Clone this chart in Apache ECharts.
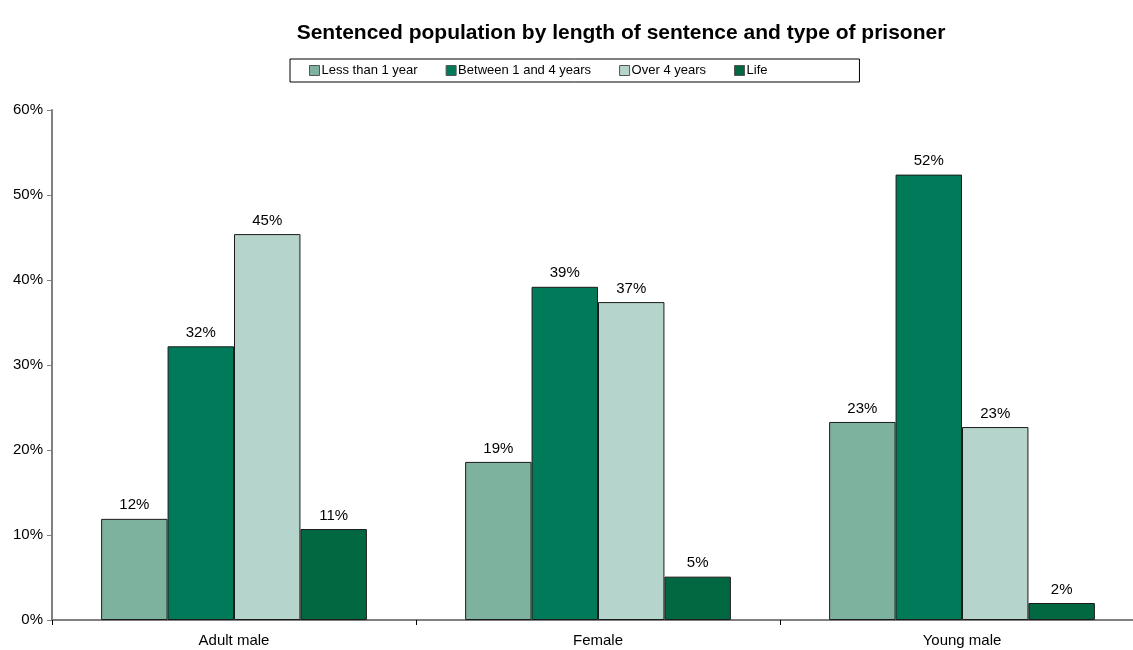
<!DOCTYPE html>
<html>
<head>
<meta charset="utf-8">
<script src="https://cdn.jsdelivr.net/npm/echarts@6/dist/echarts.min.js"></script>
<style>
  html, body { margin: 0; padding: 0; background: #fff; overflow: hidden; }
  #main { width: 1144px; height: 650px; }
</style>
</head>
<body>
<div id="main"></div>
<script>
// 数据
var categories = ['Adult male', 'Female', 'Young male'];
var seriesNames = ['Less than 1 year', 'Between 1 and 4 years', 'Over 4 years', 'Life'];
var lessThan1 = [11.9, 18.6, 23.3];
var between1and4 = [32.2, 39.2, 52.4];
var over4 = [45.4, 37.4, 22.7];
var life = [10.7, 5.1, 2.0];
var yTicks = [0, 10, 20, 30, 40, 50, 60];

var colors = ['#7DB39E', '#017A5A', '#B5D4CB', '#016841'];
var values = [lessThan1, between1and4, over4, life];

var myChart = echarts.init(document.getElementById('main'));

var series = [];
for (var i = 0; i < seriesNames.length; i++) {
	series.push({
		name: seriesNames[i],
		type: 'bar',
		data: values[i],
		barGap: 0,
		barCategoryGap: '27%',
		itemStyle: {
			color: colors[i],
			borderColor: '#1a1a1a',
			borderWidth: 1
		},
		label: {
			show: true,
			position: 'top',
			distance: 6,
			fontSize: 15,
			fontFamily: 'Liberation Sans, Arial',
			color: '#000',
			formatter: function (p) {
				return Math.round(p.value) + '%';
			}
		}
	});
}

var option = {
	animation: false,
	title: {
		text: 'Sentenced population by length of sentence and type of prisoner',
		left: 616,
		textAlign: 'center',
		top: 18,
		textStyle: {
			fontSize: 21,
			fontWeight: 'bold',
			fontFamily: 'Liberation Sans, Arial',
			color: '#000'
		}
	},
	legend: {
		left: 290,
		top: 59,
		padding: [5, 92, 5, 19],
		itemGap: 28,
		itemWidth: 10,
		itemHeight: 10,
		icon: 'rect',
		borderColor: '#000',
		borderWidth: 1,
		textStyle: {
			fontSize: 13,
			fontFamily: 'Liberation Sans, Arial',
			color: '#000',
			padding: [0, 0, 0, -3]
		},
		itemStyle: {
			borderColor: '#555',
			borderWidth: 1
		},
		data: seriesNames
	},
	grid: {
		left: 52,
		top: 110,
		width: 1092,
		height: 510,
		containLabel: false
	},
	xAxis: {
		type: 'category',
		data: categories,
		axisLine: { lineStyle: { color: '#808080', width: 2 } },
		axisTick: { show: true, length: 5, interval: 0, lineStyle: { color: '#000' } },
		axisLabel: {
			margin: 13,
			fontSize: 15,
			fontFamily: 'Liberation Sans, Arial',
			color: '#000'
		}
	},
	yAxis: {
		type: 'value',
		min: yTicks[0],
		max: yTicks[yTicks.length - 1],
		interval: 10,
		axisLine: { show: true, lineStyle: { color: '#808080', width: 2 } },
		axisTick: { show: true, length: 5, lineStyle: { color: '#808080' } },
		splitLine: { show: false },
		axisLabel: {
			margin: 9,
			fontSize: 15,
			fontFamily: 'Liberation Sans, Arial',
			color: '#000',
			formatter: '{value}%'
		}
	},
	series: series
};

myChart.setOption(option);
</script>
</body>
</html>
